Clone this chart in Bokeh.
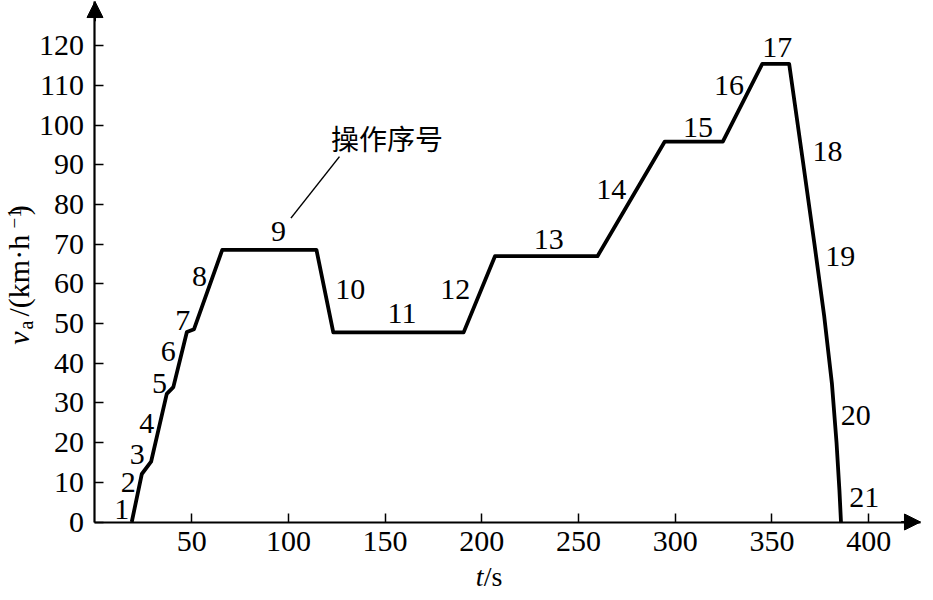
from bokeh.plotting import figure
from bokeh.models import FixedTicker, Arrow, NormalHead, LinearAxis
from bokeh.core.properties import value
from bokeh.embed import file_html
from bokeh.resources import INLINE

# ---- data ----
time_s = [19, 24.2, 29, 37.1, 40.5, 47.5, 51.2, 65.8, 114.5, 123.2, 190.6, 206.8,
          259.8, 294.6, 324.6, 345.0, 358.9, 366, 372, 377, 381, 383.4, 384.9, 385.7]
speed_kmh = [0, 12.1, 15.2, 32.3, 34.0, 47.9, 48.6, 68.6, 68.6, 47.8, 47.8, 67.0,
             67.0, 95.9, 95.9, 115.5, 115.5, 91, 70, 52, 35, 20, 8, 0]

seg_ids = [str(i) for i in range(1, 22)]
seg_t = [13.8, 17.2, 21.9, 26.7, 33.3, 37.9, 45.4, 54.0, 94.9, 132.0, 158.7, 186.3,
         234.6, 266.9, 311.8, 327.8, 352.8, 378.7, 385.3, 393.4, 397.7]
seg_v = [3.2, 10.0, 17.1, 24.9, 34.9, 42.9, 50.9, 61.8, 73.2, 58.5, 52.6, 58.7,
         71.3, 83.8, 99.4, 110.0, 119.7, 93.5, 66.9, 26.8, 6.2]

note_text = "操作序号"
note_t, note_v = 151.0, 96.9
leader_t = [101.3, 126.4]
leader_v = [76.6, 92.1]

x_ticks = [50, 100, 150, 200, 250, 300, 350, 400]
y_ticks = [0, 10, 20, 30, 40, 50, 60, 70, 80, 90, 100, 110, 120]
x_view = (-48.86, 429.4)
y_view = (-17.77, 131.46)
x_arrow_end, y_arrow_end = 426.8, 131.2

SERIF = "Liberation Serif"
FS = "30px"

p = figure(width=925, height=592, x_range=x_view, y_range=y_view,
           output_backend="svg", toolbar_location=None,
           x_axis_location=None, y_axis_location=None,
           min_border_left=0, min_border_right=0, min_border_top=0, min_border_bottom=0)
p.outline_line_color = None
p.grid.visible = False
p.background_fill_color = "white"
p.border_fill_color = "white"

xax = LinearAxis(fixed_location=0, bounds=(0, x_arrow_end), ticker=FixedTicker(ticks=x_ticks))
yax = LinearAxis(fixed_location=0, bounds=(0, y_arrow_end), ticker=FixedTicker(ticks=y_ticks))
for ax in (xax, yax):
    ax.axis_line_width = 2.2
    ax.axis_line_color = "black"
    ax.major_tick_in = 9
    ax.major_tick_out = 0
    ax.major_tick_line_width = 1.5
    ax.major_tick_line_color = "black"
    ax.minor_tick_line_color = None
    ax.major_label_text_font = SERIF
    ax.major_label_text_font_size = FS
    ax.major_label_text_color = "black"
xax.major_label_standoff = 10
yax.major_label_standoff = 11
p.add_layout(xax, "below")
p.add_layout(yax, "left")

# axis arrows
p.add_layout(Arrow(end=NormalHead(size=16, fill_color="black", line_color="black"),
                   line_color="black", line_width=2,
                   x_start=x_arrow_end - 10, y_start=0, x_end=x_arrow_end, y_end=0))
p.add_layout(Arrow(end=NormalHead(size=16, fill_color="black", line_color="black"),
                   line_color="black", line_width=2,
                   x_start=0, y_start=y_arrow_end - 5, x_end=0, y_end=y_arrow_end))

# main curve
p.line(time_s, speed_kmh, line_color="black", line_width=3.8, line_join="round")

# segment numbers
p.text(x=seg_t, y=seg_v, text=seg_ids, text_font=value(SERIF), text_font_size=FS,
       text_align="center", text_baseline="middle", text_color="black")

# annotation
p.line(leader_t, leader_v, line_color="black", line_width=1.5)
p.text(x=[note_t], y=[note_v], text=[note_text], text_font=value("Noto Sans CJK SC"),
       text_font_size="28px", text_align="center", text_baseline="middle", text_color="black")

def lab(t, v, txt, size, style="normal", angle=1.5708):
    p.text(x=[t], y=[v], text=[txt], angle=angle, text_font=value(SERIF),
           text_font_size=size, text_font_style=style, text_align="left",
           text_baseline="middle", text_color="black")

# y-axis title pieces (rotated)
lab(-39.3, 44.7, "v", "30px", "italic")
lab(-35.7, 48.5, "a", "20px")
lab(-39.3, 51.8, "/(km·h", "30px")
lab(-41.6, 74.0, "−1", "19px")
lab(-39.3, 77.3, ")", "30px")

# x-axis title
lab(196.8, -13.74, "t", "28px", "italic", angle=0)
lab(201.0, -13.74, "/s", "28px", angle=0)

open("out.html", "w").write(file_html(p, INLINE))
